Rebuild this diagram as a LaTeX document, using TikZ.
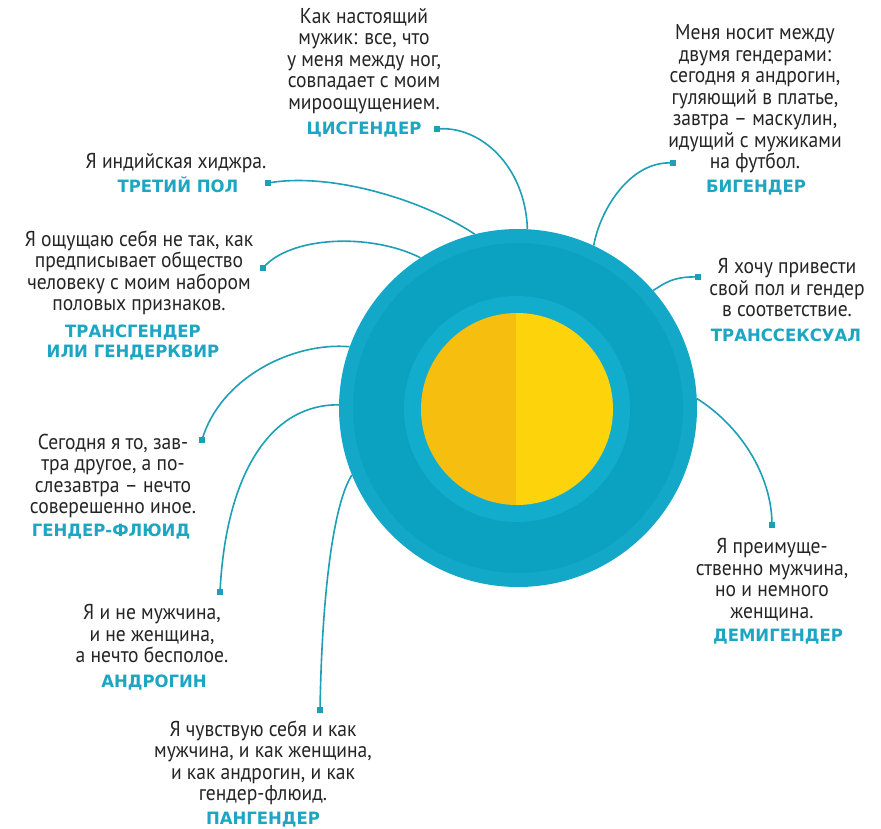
\documentclass[tikz,border=0pt]{standalone}
\usepackage{fontspec}
\setmainfont{PT Sans}[FakeStretch=0.91]
\newfontfamily\labelfont{DejaVu Sans}[FakeStretch=0.97]
\definecolor{textgray}{HTML}{252525}
\definecolor{lblteal}{HTML}{1DA5C4}
\definecolor{lineteal}{HTML}{1D9FB6}
\definecolor{ringout}{HTML}{13A8C8}
\definecolor{ringmid}{HTML}{0AA2C0}
\definecolor{ringin}{HTML}{12ADCC}
\definecolor{yelL}{HTML}{F6BE0E}
\definecolor{yelR}{HTML}{FDD30B}
\begin{document}
\begin{tikzpicture}[x=1pt,y=-1pt,
  txt/.style={font=\fontsize{21.5}{21.5}\selectfont, text=textgray, align=center, inner sep=0pt},
  lbl/.style={font=\labelfont\bfseries\fontsize{17}{20}\selectfont, text=lblteal, align=center, inner sep=0pt},
  dotsq/.style={fill=lineteal, minimum size=6pt, inner sep=0pt, draw=none},
  conn/.style={draw=lineteal, line width=1.6pt}]
\useasboundingbox[fill=white] (0,0) rectangle (881,829);

% central disc
\node[circle, fill=ringout, minimum size=358pt, inner sep=0pt] (ring) at (518,408) {};
\fill[ringmid] (ring.center) circle (165);
\fill[ringin] (517,409) circle (113);
\begin{scope}
  \clip (400,300) rectangle (516,520);
  \fill[yelL] (517,409) circle (96);
\end{scope}
\begin{scope}
  \clip (516,300) rectangle (640,520);
  \fill[yelR] (517,409) circle (96);
\end{scope}

% texts
\node[txt] (tcis) at (364,61) {Как настоящий\\мужик: все, что\\у меня между ног,\\совпадает с моим\\мироощущением.};
\node[lbl] (lcis) at (364,130) {ЦИСГЕНДЕР};
\node[dotsq] (dcis) at (437,129) {};

\node[txt] (tbig) at (755,99) {Меня носит между\\двумя гендерами:\\сегодня я андрогин,\\гуляющий в платье,\\завтра -- маскулин,\\идущий с мужиками\\на футбол.};
\node[lbl] (lbig) at (756,188) {БИГЕНДЕР};
\node[dotsq] (dbig) at (673,163) {};

\node[txt] (tthird) at (176,163) {Я индийская хиджра.};
\node[lbl] (lthird) at (178,185) {ТРЕТИЙ ПОЛ};
\node[dotsq] (dthird) at (268,183) {};

\node[txt] (ttrans) at (139,273) {Я ощущаю себя не так, как\\предписывает общество\\человеку с моим набором\\половых признаков.};
\node[lbl] (ltrans) at (133,343) {ТРАНСГЕНДЕР\\ИЛИ ГЕНДЕРКВИР};
\node[dotsq] (dtrans) at (263,268) {};

\node[txt] (tfluid) at (113,476) {Сегодня я то, зав-\\тра другое, а по-\\слезавтра -- нечто\\соверешенно иное.};
\node[lbl] (lfluid) at (111,532) {ГЕНДЕР-ФЛЮИД};
\node[dotsq] (dfluid) at (202,440) {};

\node[txt] (tandro) at (152,634) {Я и не мужчина,\\и не женщина,\\а нечто бесполое.};
\node[lbl] (landro) at (154,683) {АНДРОГИН};
\node[dotsq] (dandro) at (220,592) {};

\node[txt] (tpan) at (263,763) {Я чувствую себя и как\\мужчина, и как женщина,\\и как андрогин, и как\\гендер-флюид.};
\node[lbl] (lpan) at (263,820) {ПАНГЕНДЕР};
\node[dotsq] (dpan) at (320,710) {};

\node[txt] (tsex) at (787,288) {Я хочу привести\\свой пол и гендер\\в соответствие.};
\node[lbl] (lsex) at (786,335) {ТРАНССЕКСУАЛ};
\node[dotsq] (dsex) at (698,277) {};

\node[txt] (tdemi) at (772,580) {Я преимуще-\\ственно мужчина,\\но и немного\\женщина.};
\node[lbl] (ldemi) at (778,637) {ДЕМИГЕНДЕР};
\node[dotsq] (ddemi) at (772,525) {};

% connectors
\draw[conn] (dcis.center) .. controls +(43,-4) and +(-2,-63) .. (ring.87);
\draw[conn] (dthird.center) .. controls +(62,-11) and +(-53,-35) .. (ring.104.6);
\draw[conn] (dtrans.center) .. controls +(27,-32) and +(-50,-25) .. (ring.123);
\draw[conn] (dfluid.center) .. controls +(18,-62) and +(-57,-5) .. (ring.160.7);
\draw[conn] (dandro.center) .. controls +(6,-122) and +(-66,-1) .. (ring.179);
\draw[conn] (dpan.center) .. controls +(2,-120) and +(-18,28) .. (ring.202);
\draw[conn] (dbig.center) .. controls +(-43,-3) and +(6,-35) .. (ring.65);
\draw[conn] (dsex.center) .. controls +(-26,-1) and +(10,-6) .. (ring.41.4);
\draw[conn] (ddemi.center) .. controls +(0,-50) and +(43,27) .. (ring.3.2);
\end{tikzpicture}
\end{document}
